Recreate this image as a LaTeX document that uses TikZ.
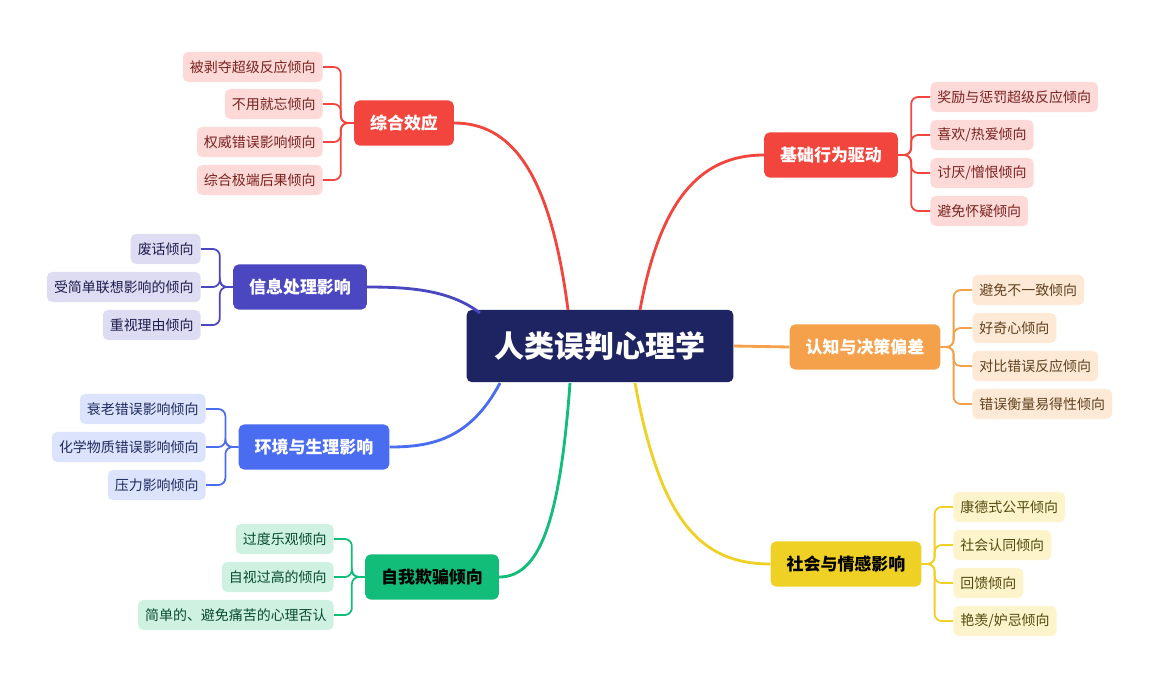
\documentclass[tikz,border=0pt]{standalone}
\usepackage{fontspec}
\setmainfont{Noto Sans CJK SC}
\usetikzlibrary{positioning}

\definecolor{navy}{HTML}{1E2461}
\definecolor{cred}{HTML}{F2453D}
\definecolor{corange}{HTML}{F5A04A}
\definecolor{cyellow}{HTML}{EFD126}
\definecolor{cgreen}{HTML}{12BC79}
\definecolor{cblue}{HTML}{4A6CF0}
\definecolor{cindigo}{HTML}{4B47C1}
\definecolor{lred}{HTML}{FDD9D7}
\definecolor{lorange}{HTML}{FDE9D5}
\definecolor{lyellow}{HTML}{FDF4CC}
\definecolor{lgreen}{HTML}{CFF1E2}
\definecolor{lblue}{HTML}{DCE3FC}
\definecolor{lindigo}{HTML}{DDDCF3}

\tikzset{
  root/.style={fill=navy, text=white, rounded corners=3pt, minimum width=151pt,
    minimum height=41pt, font=\fontsize{17}{20}\selectfont\bfseries},
  branch/.style={fill=#1, text=white, rounded corners=3pt, minimum height=25.5pt,
    inner xsep=9pt, font=\fontsize{9.6}{12}\selectfont\bfseries},
  leaf/.style={fill=#1, rounded corners=3pt, minimum height=17pt, inner xsep=4pt,
    font=\fontsize{7.9}{10}\selectfont},
  trunk/.style={draw=#1, line width=1.6pt},
  twig/.style={draw=#1, line width=1pt, rounded corners=4pt},
}

\begin{document}
\begin{tikzpicture}[x=0.566pt,y=-0.566pt]
  \useasboundingbox (0,0) rectangle (1160,675);

  % root
  \node[root] (root) at (600,346) {人类误判心理学};

  % branches
  \node[branch=cred] (b1) at (831,155) {基础行为驱动};
  \node[branch=corange] (b2) at (865,347) {认知与决策偏差};
  \node[branch=cyellow, text=black] (b3) at (846,564) {社会与情感影响};
  \node[branch=cgreen, text=black] (b4) at (432,577) {自我欺骗倾向};
  \node[branch=cblue] (b5) at (314,447) {环境与生理影响};
  \node[branch=cindigo] (b6) at (300,287) {信息处理影响};
  \node[branch=cred] (b7) at (404,123) {综合效应};

  % trunks
  \draw[trunk=cred] (640,310) .. controls (660,200) and (700,155) .. (b1.west);
  \draw[trunk=corange] (root.east) -- (b2.west);
  \draw[trunk=cyellow] (635,383) .. controls (660,520) and (700,564) .. (b3.west);
  \draw[trunk=cgreen] (570,383) .. controls (560,520) and (540,577) .. (b4.east);
  \draw[trunk=cblue] (500,383) .. controls (470,440) and (430,447) .. (b5.east);
  \draw[trunk=cindigo] (480,313) .. controls (450,290) and (410,287) .. (b6.east);
  \draw[trunk=cred] (568,310) .. controls (550,170) and (510,123) .. (b7.east);

  % leaves of b1
  \node[leaf=lred, text=cred!50!black, anchor=west] (l11) at (930,97) {奖励与惩罚超级反应倾向};
  \node[leaf=lred, text=cred!50!black, anchor=west] (l12) at (930,135) {喜欢/热爱倾向};
  \node[leaf=lred, text=cred!50!black, anchor=west] (l13) at (930,173) {讨厌/憎恨倾向};
  \node[leaf=lred, text=cred!50!black, anchor=west] (l14) at (930,211) {避免怀疑倾向};
  \foreach \l in {l11,l12,l13,l14}
    \draw[twig=cred] (b1.east) -- ++(13,0) |- (\l.west);

  % leaves of b2
  \node[leaf=lorange, text=corange!40!black, anchor=west] (l21) at (972,290) {避免不一致倾向};
  \node[leaf=lorange, text=corange!40!black, anchor=west] (l22) at (972,328) {好奇心倾向};
  \node[leaf=lorange, text=corange!40!black, anchor=west] (l23) at (972,366) {对比错误反应倾向};
  \node[leaf=lorange, text=corange!40!black, anchor=west] (l24) at (972,404) {错误衡量易得性倾向};
  \foreach \l in {l21,l22,l23,l24}
    \draw[twig=corange] (b2.east) -- ++(13,0) |- (\l.west);

  % leaves of b3
  \node[leaf=lyellow, text=cyellow!35!black, anchor=west] (l31) at (953,507) {康德式公平倾向};
  \node[leaf=lyellow, text=cyellow!35!black, anchor=west] (l32) at (953,545) {社会认同倾向};
  \node[leaf=lyellow, text=cyellow!35!black, anchor=west] (l33) at (953,583) {回馈倾向};
  \node[leaf=lyellow, text=cyellow!35!black, anchor=west] (l34) at (953,621) {艳羡/妒忌倾向};
  \foreach \l in {l31,l32,l33,l34}
    \draw[twig=cyellow] (b3.east) -- ++(13,0) |- (\l.west);

  % leaves of b4
  \node[leaf=lgreen, text=cgreen!40!black, anchor=east] (l41) at (334,539) {过度乐观倾向};
  \node[leaf=lgreen, text=cgreen!40!black, anchor=east] (l42) at (334,577) {自视过高的倾向};
  \node[leaf=lgreen, text=cgreen!40!black, anchor=east] (l43) at (334,615) {简单的、避免痛苦的心理否认};
  \foreach \l in {l41,l42,l43}
    \draw[twig=cgreen] (b4.west) -- ++(-13,0) |- (\l.east);

  % leaves of b5
  \node[leaf=lblue, text=cblue!40!black, anchor=east] (l51) at (206,409) {衰老错误影响倾向};
  \node[leaf=lblue, text=cblue!40!black, anchor=east] (l52) at (206,447) {化学物质错误影响倾向};
  \node[leaf=lblue, text=cblue!40!black, anchor=east] (l53) at (206,485) {压力影响倾向};
  \foreach \l in {l51,l52,l53}
    \draw[twig=cblue] (b5.west) -- ++(-13,0) |- (\l.east);

  % leaves of b6
  \node[leaf=lindigo, text=cindigo!40!black, anchor=east] (l61) at (201,249) {废话倾向};
  \node[leaf=lindigo, text=cindigo!40!black, anchor=east] (l62) at (201,287) {受简单联想影响的倾向};
  \node[leaf=lindigo, text=cindigo!40!black, anchor=east] (l63) at (201,325) {重视理由倾向};
  \foreach \l in {l61,l62,l63}
    \draw[twig=cindigo] (b6.west) -- ++(-13,0) |- (\l.east);

  % leaves of b7
  \node[leaf=lred, text=cred!50!black, anchor=east] (l71) at (323,67) {被剥夺超级反应倾向};
  \node[leaf=lred, text=cred!50!black, anchor=east] (l72) at (323,104) {不用就忘倾向};
  \node[leaf=lred, text=cred!50!black, anchor=east] (l73) at (323,142) {权威错误影响倾向};
  \node[leaf=lred, text=cred!50!black, anchor=east] (l74) at (323,180) {综合极端后果倾向};
  \foreach \l in {l71,l72,l73,l74}
    \draw[twig=cred] (b7.west) -- ++(-13,0) |- (\l.east);
\end{tikzpicture}
\end{document}
